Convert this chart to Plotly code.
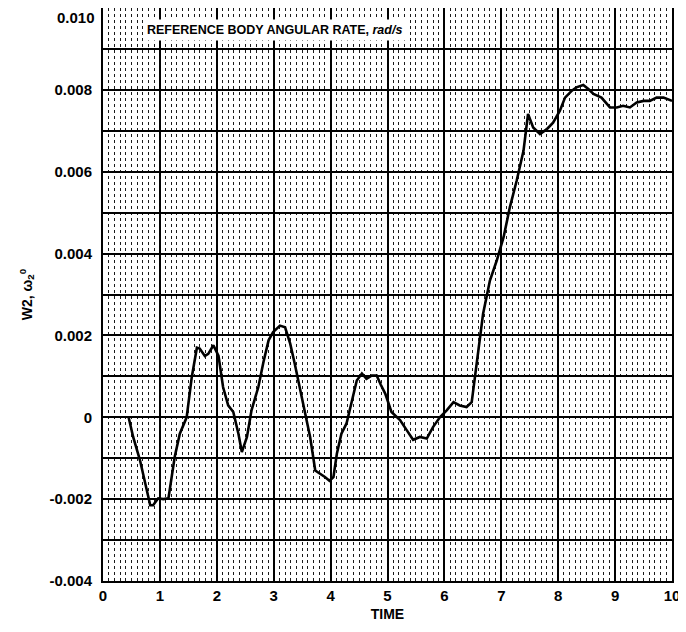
import plotly.graph_objects as go

# Data
time = [0.45, 0.53, 0.65, 0.74, 0.83, 0.88, 0.97, 1.06, 1.15, 1.26, 1.35, 1.47, 1.56, 1.65, 1.70,
        1.79, 1.85, 1.94, 2.03, 2.11, 2.20, 2.29, 2.38, 2.44, 2.53, 2.61, 2.73, 2.82, 2.91, 2.99,
        3.11, 3.20, 3.29, 3.37, 3.46, 3.55, 3.64, 3.73, 3.81, 3.90, 3.98, 4.05, 4.11, 4.19, 4.28,
        4.37, 4.46, 4.55, 4.63, 4.72, 4.81, 4.88, 4.96, 5.07, 5.22, 5.34, 5.45, 5.57, 5.69, 5.80,
        5.92, 6.04, 6.16, 6.27, 6.39, 6.48, 6.57, 6.68, 6.80, 6.92, 7.04, 7.15, 7.27, 7.39, 7.47,
        7.56, 7.68, 7.80, 7.91, 8.03, 8.12, 8.24, 8.32, 8.44, 8.53, 8.62, 8.76, 8.91, 9.03, 9.14,
        9.26, 9.38, 9.50, 9.61, 9.73, 9.85, 10.0]
w2 = [0.0, -0.00048, -0.00105, -0.00162, -0.00215, -0.00215, -0.00198, -0.0020, -0.00198, -0.00097,
      -0.0004, 0.0, 0.00098, 0.0017, 0.00168, 0.0015, 0.00155, 0.00176, 0.0015, 0.00074, 0.00029,
      0.00013, -0.0004, -0.00085, -0.00048, 0.00017, 0.00074, 0.00135, 0.00188, 0.00208, 0.00224,
      0.0022, 0.0018, 0.00131, 0.00074, 0.00017, -0.00048, -0.0013, -0.00137, -0.00146, -0.00155,
      -0.00146, -0.00089, -0.0004, -0.00015, 0.00041, 0.0009, 0.00107, 0.00094, 0.00102, 0.00102,
      0.0008, 0.00058, 0.00013, -0.00007, -0.00032, -0.00055, -0.00048, -0.00052, -0.00024, 0.0,
      0.00017, 0.00037, 0.00029, 0.00025, 0.00037, 0.00139, 0.00253, 0.00334, 0.00383, 0.0044,
      0.00513, 0.00578, 0.00651, 0.00741, 0.00708, 0.00692, 0.00704, 0.0072, 0.00749, 0.00781,
      0.00798, 0.00806, 0.00812, 0.00802, 0.0079, 0.00781, 0.00757, 0.00757, 0.00761, 0.00757,
      0.00769, 0.00773, 0.00773, 0.00781, 0.00781, 0.00773]

x_tick_vals = [0, 1, 2, 3, 4, 5, 6, 7, 8, 9, 10]
x_tick_text = ["0", "1", "2", "3", "4", "5", "6", "7", "8", "9", "10"]
y_tick_vals = [-0.004, -0.002, 0, 0.002, 0.004, 0.006, 0.008, 0.010]
y_tick_text = ["-0.004", "-0.002", "0", "0.002", "0.004", "0.006", "0.008", "0.010"]
y_grid_extra = [-0.003, -0.001, 0.001, 0.003, 0.005, 0.007, 0.009]

title_text = "REFERENCE BODY ANGULAR RATE, <i>rad/s</i>"
x_title = "TIME"
y_title = "W2, ω<sub>2</sub><sup>0</sup>"

FAM = "Liberation Sans, Arial, sans-serif"

fig = go.Figure()
fig.add_trace(go.Scatter(x=time, y=w2, mode="lines",
                         line=dict(color="black", width=2.6), showlegend=False))

annotations = [dict(
    x=0.7, y=0.00946, xref="x", yref="y", xanchor="left", yanchor="middle",
    text=title_text, showarrow=False, bgcolor="white", borderpad=3,
    font=dict(size=12.5, weight="bold", color="black", family=FAM),
)]
# the top tick label sits at the figure's top edge: draw it just below the edge
annotations.append(dict(
    x=0, y=y_tick_vals[-1], xref="paper", yref="y", xanchor="right", yanchor="top",
    xshift=-6, yshift=1, text=y_tick_text[-1], showarrow=False,
    font=dict(size=15, weight="bold", color="black", family=FAM),
))

fig.update_layout(
    # the page body adds an 8px offset, so the figure is sized to fit inside the window
    width=678, height=624,
    margin=dict(l=95, r=14, t=0, b=51),
    paper_bgcolor="white", plot_bgcolor="white",
    font=dict(family=FAM, color="black", size=14, weight="bold"),
    xaxis=dict(
        range=[0, 10], tickvals=x_tick_vals, ticktext=x_tick_text,
        showgrid=True, gridcolor="black", gridwidth=2,
        minor=dict(dtick=0.1, showgrid=True, gridcolor="#1a1a1a", gridwidth=1, griddash="dot"),
        showline=True, linecolor="black", linewidth=2, mirror=True,
        ticks="", ticklabelstandoff=0, zeroline=False,
        tickfont=dict(size=15, weight="bold"),
        title=dict(text=x_title, standoff=6, font=dict(size=14, weight="bold")),
        automargin=False,
    ),
    yaxis=dict(
        range=[-0.004, 0.010], tickvals=y_tick_vals[:-1], ticktext=y_tick_text[:-1],
        showgrid=True, gridcolor="black", gridwidth=2,
        minor=dict(tickvals=y_grid_extra, showgrid=True, gridcolor="black", gridwidth=2),
        showline=True, linecolor="black", linewidth=2, mirror=True,
        ticks="", ticklabelstandoff=6, zeroline=False,
        tickfont=dict(size=15, weight="bold"),
        title=dict(text=y_title, standoff=14, font=dict(size=14, weight="bold")),
        automargin=False,
    ),
    annotations=annotations,
)

fig.write_html("out.html")
